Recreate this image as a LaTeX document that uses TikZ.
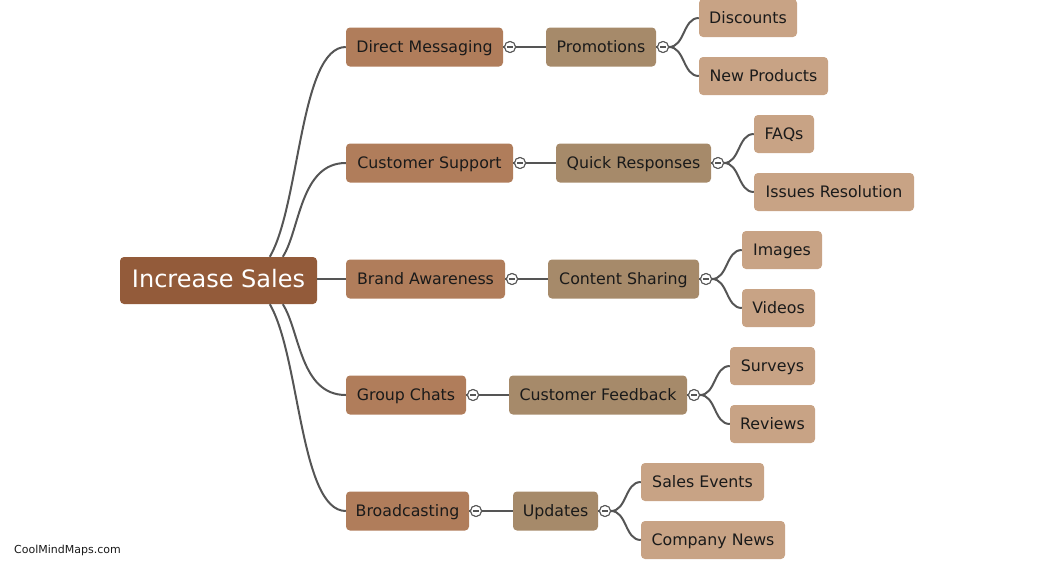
\documentclass[tikz,border=0pt]{standalone}
\usepackage{fontspec}
\setmainfont{DejaVu Sans}
\definecolor{rootc}{HTML}{935B3A}
\definecolor{lonec}{HTML}{B07D5B}
\definecolor{ltwoc}{HTML}{A68A6A}
\definecolor{lthreec}{HTML}{C8A385}
\definecolor{linec}{HTML}{555555}
\definecolor{txtc}{HTML}{1A1A1A}
\tikzset{
  box/.style={rounded corners=4pt, inner sep=0pt, text=txtc, text height=12.5pt, text depth=2.3pt, font=\fontsize{15.8}{19}\selectfont},
  rootbox/.style={box, fill=rootc, text=white, minimum height=47, text height=18pt, text depth=4.5pt, font=\fontsize{24}{28}\selectfont},
  lone/.style={box, fill=lonec, minimum height=39},
  ltwo/.style={box, fill=ltwoc, minimum height=39},
  lthree/.style={box, fill=lthreec, minimum height=38},
  conn/.style={draw=linec, line width=2pt},
  tog/.style={circle, draw=linec, fill=white, line width=1pt, minimum size=11pt, inner sep=0pt,
    path picture={\draw[linec, line width=1.4pt] ([xshift=-2.8pt]path picture bounding box.center) -- ([xshift=2.8pt]path picture bounding box.center);}},
}
\begin{document}
\begin{tikzpicture}[x=1pt,y=-1pt]
\useasboundingbox (0,0) rectangle (1047,560);
% root
\node[rootbox, minimum width=197] (r) at (218.5,280.5) {Increase Sales};
% level 1
\node[lone, minimum width=157] (dm) at (424.5,47) {Direct Messaging};
\node[lone, minimum width=167] (cs) at (429.5,163) {Customer Support};
\node[lone, minimum width=159] (ba) at (425.5,279) {Brand Awareness};
\node[lone, minimum width=120] (gc) at (406,395) {Group Chats};
\node[lone, minimum width=123] (bc) at (407.5,511) {Broadcasting};
% level 2
\node[ltwo, minimum width=110] (pr) at (601,47) {Promotions};
\node[ltwo, minimum width=155] (qr) at (633.5,163) {Quick Responses};
\node[ltwo, minimum width=151] (ct) at (623.5,279) {Content Sharing};
\node[ltwo, minimum width=178] (cf) at (598,395) {Customer Feedback};
\node[ltwo, minimum width=85] (up) at (555.5,511) {Updates};
% level 3
\node[lthree, minimum width=98] (di) at (748,18) {Discounts};
\node[lthree, minimum width=129] (np) at (763.5,76) {New Products};
\node[lthree, minimum width=60] (fq) at (784,134) {FAQs};
\node[lthree, minimum width=160] (ir) at (834,192) {Issues Resolution};
\node[lthree, minimum width=80] (im) at (782,250) {Images};
\node[lthree, minimum width=73] (vi) at (778.5,308) {Videos};
\node[lthree, minimum width=85] (su) at (772.5,366) {Surveys};
\node[lthree, minimum width=85] (re) at (772.5,424) {Reviews};
\node[lthree, minimum width=123] (se) at (702.5,482) {Sales Events};
\node[lthree, minimum width=144] (cn) at (713,540) {Company News};
% root connectors
\draw[conn] ([xshift=150pt]r.north west) .. controls (300,205) and (300,47) .. (dm.west);
\draw[conn] ([xshift=163pt]r.north west) .. controls (300,230) and (300,163) .. (cs.west);
\draw[conn] (r.east |- ba.west) -- (ba.west);
\draw[conn] ([xshift=163pt]r.south west) .. controls (300,331) and (300,395) .. (gc.west);
\draw[conn] ([xshift=150pt]r.south west) .. controls (300,356) and (300,511) .. (bc.west);
% toggles level1
\node[tog] (t1) at (510,47) {};
\node[tog] (t2) at (520,163) {};
\node[tog] (t3) at (512,279) {};
\node[tog] (t4) at (473,395) {};
\node[tog] (t5) at (476,511) {};
\draw[conn] (dm.east) -- (t1.west); \draw[conn] (t1.east) -- (pr.west);
\draw[conn] (cs.east) -- (t2.west); \draw[conn] (t2.east) -- (qr.west);
\draw[conn] (ba.east) -- (t3.west); \draw[conn] (t3.east) -- (ct.west);
\draw[conn] (gc.east) -- (t4.west); \draw[conn] (t4.east) -- (cf.west);
\draw[conn] (bc.east) -- (t5.west); \draw[conn] (t5.east) -- (up.west);
% toggles level2
\node[tog] (u1) at (663,47) {};
\node[tog] (u2) at (718,163) {};
\node[tog] (u3) at (706,279) {};
\node[tog] (u4) at (694,395) {};
\node[tog] (u5) at (605,511) {};
\draw[conn] (pr.east) -- (u1.west);
\draw[conn] (qr.east) -- (u2.west);
\draw[conn] (ct.east) -- (u3.west);
\draw[conn] (cf.east) -- (u4.west);
\draw[conn] (up.east) -- (u5.west);
\foreach \u/\a/\b in {u1/di/np, u2/fq/ir, u3/im/vi, u4/su/re, u5/se/cn}{
  \draw[conn] (\u.east) .. controls +(16,0) and +(-16,0) .. (\a.west);
  \draw[conn] (\u.east) .. controls +(16,0) and +(-16,0) .. (\b.west);
}
% redraw toggles on top
\foreach \t in {t1,t2,t3,t4,t5,u1,u2,u3,u4,u5}{
  \node[tog] at (\t) {};
}
\node[anchor=west, inner sep=0pt, text=txtc, font=\fontsize{11}{13}\selectfont] (wm) at (14,550) {CoolMindMaps.com};
\end{tikzpicture}
\end{document}
